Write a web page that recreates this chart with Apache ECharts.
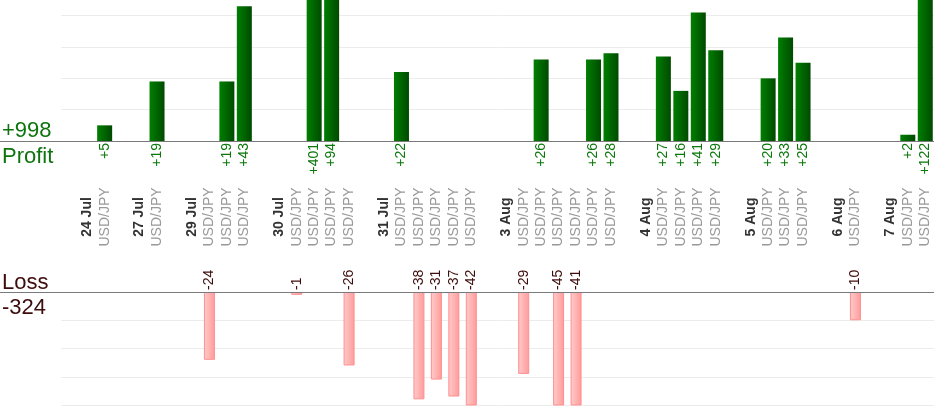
<!DOCTYPE html>
<html>
<head>
<meta charset="utf-8">
<style>
html, body { margin: 0; padding: 0; background: #fff; }
#chart { width: 934px; height: 420px; }
</style>
<script src="https://cdn.jsdelivr.net/npm/echarts@6/dist/echarts.min.js"></script>
</head>
<body>
<div id="chart"></div>
<script>
// trading days on the axis
const days = ['24 Jul', '27 Jul', '29 Jul', '30 Jul', '31 Jul', '3 Aug', '4 Aug', '5 Aug', '6 Aug', '7 Aug'];
const pair = 'USD/JPY';
// result of every trade, grouped per day (+ profit, - loss)
const trades = [
	[5],
	[19],
	[-24, 19, 43],
	[-1, 401, 94, -26],
	[22, -38, -31, -37, -42],
	[-29, 26, -45, -41, 26, 28],
	[27, 16, 41, 29],
	[20, 33, 25],
	[-10],
	[2, 122]
];

const font = "'Liberation Sans', Arial, sans-serif";

// every day gets an empty slot, a date slot, then one slot per trade
let categories = [];
let profit = [];
let loss = [];
days.forEach((d, i) => {
	categories.push('', d);
	profit.push('-', '-');
	loss.push('-', '-');
	trades[i].forEach(v => {
		categories.push(pair);
		profit.push(v > 0 ? v : '-');
		loss.push(v < 0 ? v : '-');
	});
});
let totalProfit = 0, totalLoss = 0;
trades.forEach(day => day.forEach(v => { if (v > 0) totalProfit += v; else totalLoss += v; }));

const chart = echarts.init(document.getElementById('chart'));

const option = {
	animation: false,
	grid: [
		{ left: 61, right: 0, top: 0, height: 141 },
		{ left: 61, right: 0, top: 292, height: 113 }
	],
	xAxis: [
		{
			gridIndex: 0,
			type: 'category',
			data: categories,
			axisLine: { show: false },
			axisTick: { show: false },
			axisLabel: {
				interval: 0,
				rotate: 90,
				margin: 36,
				formatter: function(v) {
					if (!v) return '';
					return v == pair ? '{p|' + v + '}' : '{d|' + v + '}';
				},
				rich: {
					d: { width: 80, align: 'center', fontWeight: 'bold', color: '#333', fontSize: 14, fontFamily: font },
					p: { width: 80, align: 'center', color: '#999', fontSize: 14, fontFamily: font }
				}
			}
		},
		{
			gridIndex: 1,
			type: 'category',
			data: categories,
			axisLine: { show: false },
			axisTick: { show: false },
			axisLabel: { show: false }
		}
	],
	yAxis: [
		{
			gridIndex: 0,
			type: 'value',
			min: 0,
			max: 45,
			interval: 10,
			axisLabel: { show: false },
			axisLine: { show: false },
			axisTick: { show: false },
			splitLine: { showMaxLine: false, lineStyle: { color: '#ececec' } }
		},
		{
			gridIndex: 1,
			type: 'value',
			min: -40,
			max: 0,
			interval: 10,
			axisLabel: { show: false },
			axisLine: { show: false },
			axisTick: { show: false },
			splitLine: { showMaxLine: false, lineStyle: { color: '#ececec' } }
		}
	],
	series: [
		{
			name: 'Profit',
			type: 'bar',
			xAxisIndex: 0,
			yAxisIndex: 0,
			barWidth: 15,
			data: profit,
			itemStyle: {
				color: new echarts.graphic.LinearGradient(0, 0, 1, 0, [
					{ offset: 0, color: '#007f00' },
					{ offset: 1, color: '#004a00' }
				])
			},
			label: {
				show: true,
				position: 'bottom',
				distance: 2,
				rotate: 90,
				align: 'right',
				verticalAlign: 'middle',
				color: '#0a780a',
				fontSize: 14,
				fontFamily: font,
				formatter: p => '+' + p.value
			}
		},
		{
			name: 'Loss',
			type: 'bar',
			xAxisIndex: 1,
			yAxisIndex: 1,
			barWidth: 11,
			data: loss,
			itemStyle: {
				color: new echarts.graphic.LinearGradient(0, 0, 1, 0, [
					{ offset: 0, color: '#ffcccc' },
					{ offset: 1, color: '#ff9a9a' }
				]),
				borderColor: '#ff8f8f',
				borderWidth: 1
			},
			label: {
				show: true,
				position: 'top',
				distance: 2,
				rotate: 90,
				align: 'left',
				verticalAlign: 'middle',
				color: '#3d0c0c',
				fontSize: 14,
				fontFamily: font
			}
		}
	]
};
chart.setOption(option);

// zero lines run the whole width, plus the totals on the left
const y0 = Math.round(chart.convertToPixel({ yAxisIndex: 0 }, 0)) + 0.5;
const y1 = Math.round(chart.convertToPixel({ yAxisIndex: 1 }, 0)) + 0.5;
chart.setOption({
	graphic: [
		{ type: 'line', shape: { x1: 0, y1: y0, x2: 934, y2: y0 }, style: { stroke: '#7a7a7a', lineWidth: 1 }, z: 10 },
		{ type: 'line', shape: { x1: 0, y1: y1, x2: 934, y2: y1 }, style: { stroke: '#7a7a7a', lineWidth: 1 }, z: 10 },
		{ type: 'text', left: 2, top: y0 - 22, style: { text: '+' + totalProfit, fill: '#0e740e', font: '22px ' + font } },
		{ type: 'text', left: 2, top: y0 + 4, style: { text: 'Profit', fill: '#0e740e', font: '22px ' + font } },
		{ type: 'text', left: 2, top: y1 - 21, style: { text: 'Loss', fill: '#3d0c0c', font: '22px ' + font } },
		{ type: 'text', left: 2, top: y1 + 4, style: { text: String(totalLoss), fill: '#3d0c0c', font: '22px ' + font } }
	]
});
</script>
</body>
</html>
